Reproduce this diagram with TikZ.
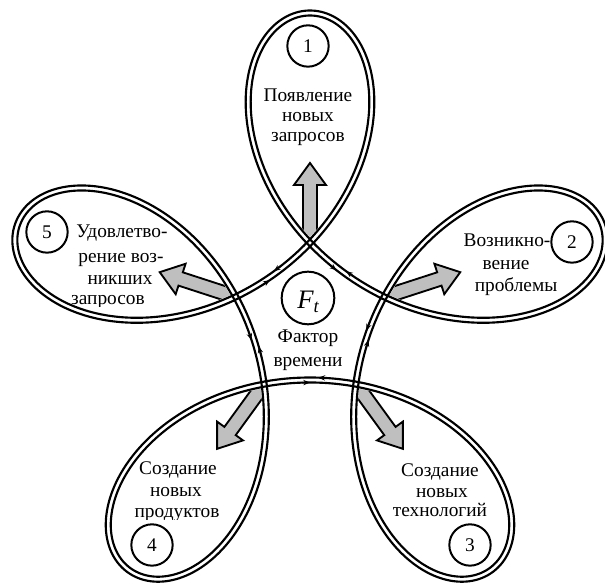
\documentclass[tikz,border=0pt]{standalone}
\usepackage{fontspec}
\setmainfont{Liberation Serif}
\usetikzlibrary{arrows.meta}
\def\A{1.835}
\def\B{1.245}
\def\dd{0.025}
\tikzset{
  declare function={
    cx(\s)=\A*cos(\s)+\B*sin(4*\s);
    cy(\s)=\A*sin(\s)+\B*cos(4*\s);
    vx(\s)=-\A*sin(\s)+4*\B*cos(4*\s);
    vy(\s)=\A*cos(\s)-4*\B*sin(4*\s);
    vl(\s)=sqrt(vx(\s)^2+vy(\s)^2);
    ox(\s,\o)=cx(\s)-\o*vy(\s)/vl(\s);
    oy(\s,\o)=cy(\s)+\o*vx(\s)/vl(\s);
  },
  lbl/.style={font=\fontsize{14.5}{15}\selectfont, inner sep=0pt, anchor=base},
  numc/.style={circle, draw, line width=1.5pt, minimum size=31pt, inner sep=0pt, font=\fontsize{14.5}{15}\selectfont},
  blockarrow/.style={fill=black!25, draw=black, line width=1.4pt, line join=miter},
  band/.style={white, line width=5.8pt, line join=round},
  rail/.style={black, line width=1.6pt, line join=round},
  tinyarrow/.style={black, line width=1.1pt, -{Stealth[length=5pt,width=4pt]}},
}
\begin{document}
\begin{tikzpicture}[x=75pt,y=75pt]
\useasboundingbox (-3.10,-2.67) rectangle (2.95,3.21);

% texts
\node[numc] (n1) at (-0.02,2.75) {1};
\node[lbl] (t1a) at (-0.02,2.19) {Появление};
\node[lbl] (t1b) at (-0.02,1.99) {новых};
\node[lbl] (t1c) at (-0.02,1.79) {запросов};

\node[numc] (n2) at (2.62,0.79) {2};
\node[lbl] (t2a) at (1.97,0.74) {Возникно-};
\node[lbl] (t2b) at (1.96,0.51) {вение};
\node[lbl] (t2c) at (2.06,0.29) {проблемы};

\node[numc] (n3) at (1.60,-2.24) {3};
\node[lbl] (t3a) at (1.30,-1.56) {Создание};
\node[lbl] (t3b) at (1.32,-1.77) {новых};
\node[lbl] (t3c) at (1.30,-1.96) {технологий};

\node[numc] (n4) at (-1.58,-2.24) {4};
\node[lbl] (t4a) at (-1.32,-1.54) {Создание};
\node[lbl] (t4b) at (-1.34,-1.76) {новых};
\begin{scope}
  \clip (-2.0,-1.985) rectangle (-0.6,-1.7);
  \node[lbl] (t4c) at (-1.33,-1.97) {продуктов};
\end{scope}

\node[numc] (n5) at (-2.63,0.89) {5};
\node[lbl] (t5a) at (-1.88,0.83) {Удовлетво-};
\node[lbl] (t5b) at (-1.89,0.58) {рение воз-};
\node[lbl] (t5c) at (-1.90,0.36) {никших};
\begin{scope}
  \clip (-2.6,0.145) rectangle (-1.4,0.4);
  \node[lbl] (t5d) at (-2.02,0.16) {запросов};
\end{scope}

\node[circle, draw, line width=1.5pt, minimum size=39.5pt, inner sep=0pt] (ft) at (-0.02,0.23) {};
\node[inner sep=0pt] (ftx) at ([yshift=-3pt]ft.center) {{\fontsize{20}{20}\selectfont\itshape F}{\fontsize{14}{14}\selectfont\itshape\raisebox{-0.45ex}{t}}};
\node[lbl] (fa) at (-0.02,-0.22) {Фактор};
\node[lbl] (fb) at (-0.02,-0.46) {времени};

% block arrows
\foreach \th/\nm in {90/a1,18/a2,306/a3,234/a4,162/a5}{
  \begin{scope}[shift={(\th:0.78)}, rotate=\th]
    \draw[blockarrow] (0,0) -- (0.08,0.07) -- (0.58,0.07) -- (0.58,0.16) -- (0.80,0)
      -- (0.58,-0.16) -- (0.58,-0.07) -- (0.08,-0.07) -- cycle;
  \end{scope}
}

% the looped double curve
\draw[band] plot[domain=0:360, samples=1081, variable=\t] ({cx(\t)},{cy(\t)}) -- cycle;
\draw[rail] plot[domain=0:360, samples=1081, variable=\t] ({ox(\t,\dd)},{oy(\t,\dd)}) -- cycle;
\draw[rail] plot[domain=0:360, samples=1081, variable=\t] ({ox(\t,-\dd)},{oy(\t,-\dd)}) -- cycle;

% small direction marks on the inner arcs
\foreach \m in {54,126,198,270,342}{
  \draw[tinyarrow] ({ox(\m-0.7,-\dd)},{oy(\m-0.7,-\dd)}) -- ({ox(\m,-\dd)},{oy(\m,-\dd)});
  \draw[tinyarrow] ({ox(\m+1.4,\dd)},{oy(\m+1.4,\dd)}) -- ({ox(\m+0.7,\dd)},{oy(\m+0.7,\dd)});
}
\end{tikzpicture}
\end{document}
